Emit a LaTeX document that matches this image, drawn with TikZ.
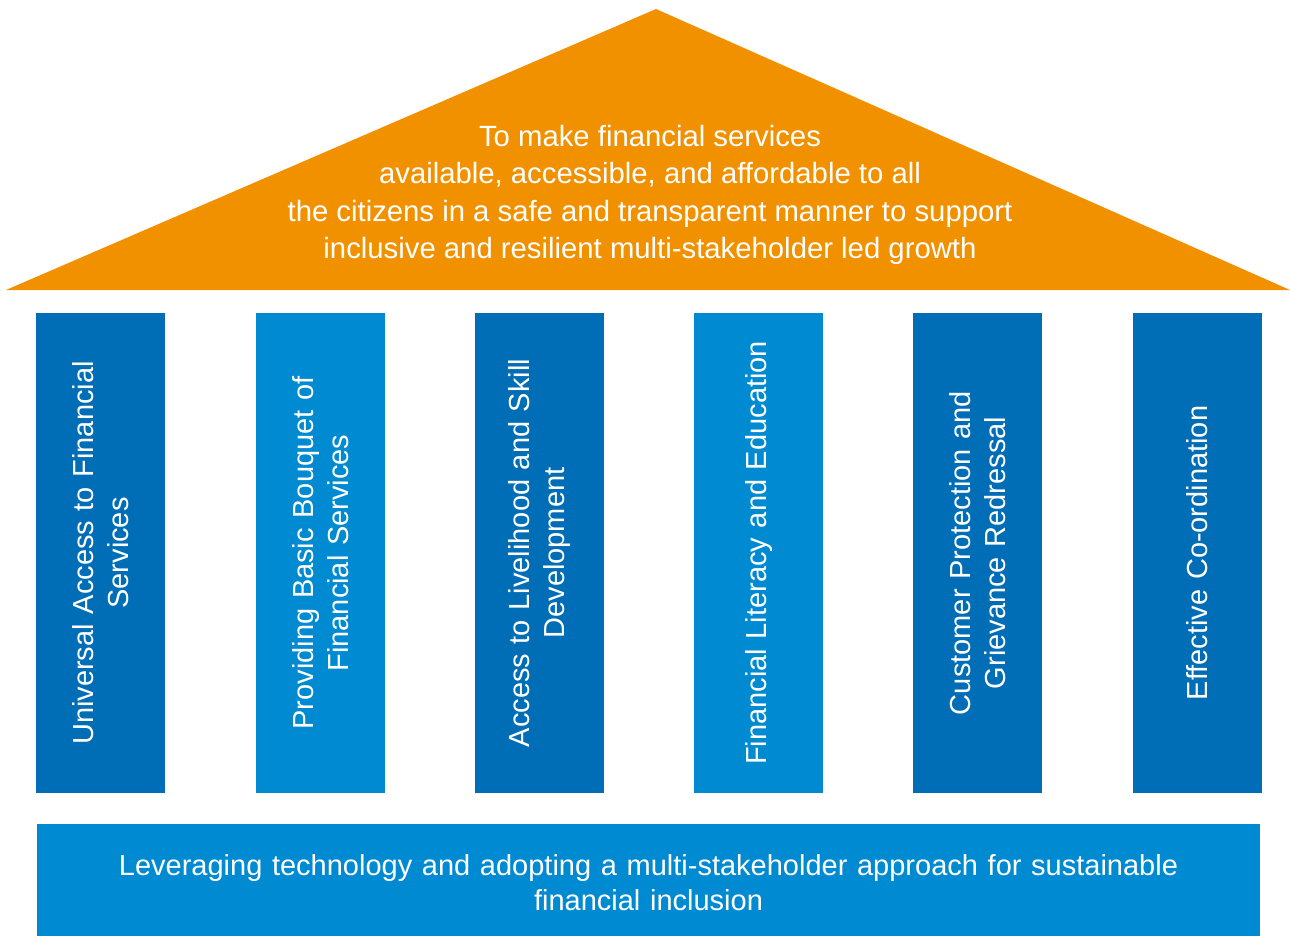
\documentclass[tikz,border=0pt]{standalone}
\usepackage{fontspec}
\setmainfont{Liberation Sans}
\usepackage{xcolor}
\usepackage{tikz}
\usetikzlibrary{positioning,calc}
\definecolor{roofgold}{RGB}{242,145,0}
\definecolor{darkpillar}{RGB}{0,110,182}
\definecolor{lightpillar}{RGB}{0,138,210}

\tikzset{
  pillar/.style={rectangle, rotate=90, minimum width=480pt, minimum height=129pt,
    inner sep=0pt, text=white, align=center, text width=470pt,
    font=\fontsize{29}{35}\selectfont},
  plinth/.style={rectangle, fill=lightpillar, minimum width=1223pt, minimum height=118pt,
    inner sep=0pt, text=white, align=center, text width=1200pt,
    font=\fontsize{29}{35}\selectfont}
}

\begin{document}
\begin{tikzpicture}[x=1pt,y=-1pt]
        \useasboundingbox (0,0) rectangle (1290,936);
        % roof
        \fill[roofgold] (6,290) -- (656,9) -- (1290,290) -- cycle;
        \node[text=white, align=center, font=\fontsize{29.3}{37.5}\selectfont] (roof) at (650,195)
          {To make financial services\\available, accessible, and affordable to all\\the citizens in a safe and transparent manner to support\\inclusive and resilient multi-stakeholder led growth};
        % pillars
        \node[pillar, fill=darkpillar] (p1) at (100.5,553) {Universal Access to Financial\\Services};
        \node[pillar, fill=lightpillar] (p2) at (320.5,553) {Providing Basic Bouquet of\\Financial Services};
        \node[pillar, fill=darkpillar] (p3) at (539.5,553) {Access to Livelihood and Skill\\Development};
        \node[pillar, fill=lightpillar] (p4) at (758.5,553) {Financial Literacy and Education};
        \node[pillar, fill=darkpillar] (p5) at (977.5,553) {Customer Protection and\\Grievance Redressal};
        \node[pillar, fill=darkpillar] (p6) at (1197.5,553) {Effective Co-ordination};
        % foundation
        \node[plinth] (base) at (648.5,883) {Leveraging technology and adopting a multi-stakeholder approach for sustainable\\financial inclusion};
\end{tikzpicture}
\end{document}
